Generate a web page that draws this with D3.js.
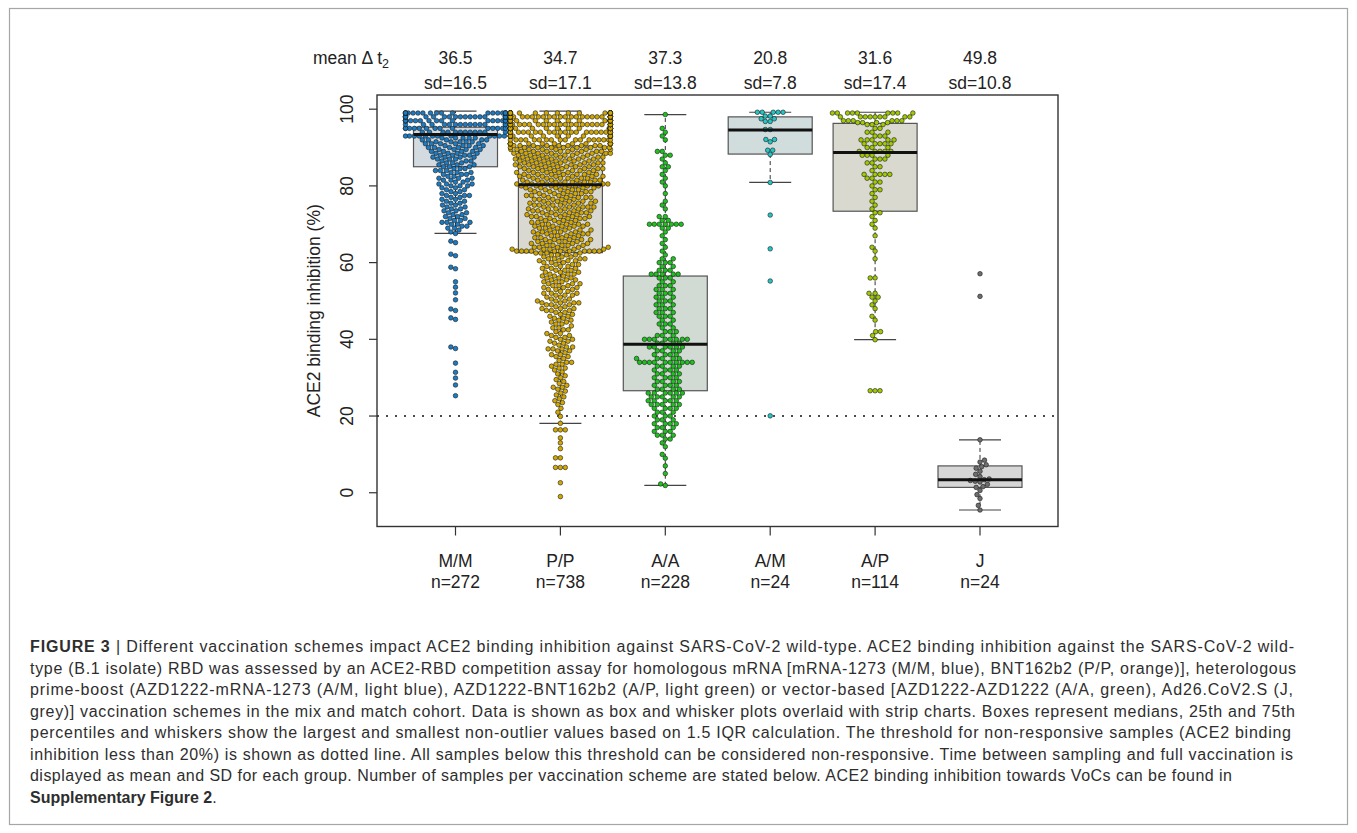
<!DOCTYPE html>
<html>
<head>
<meta charset="utf-8">
<script src="https://cdn.jsdelivr.net/npm/d3@7"></script>
<style>
  body { margin: 0; background: #fff; }
  svg { display: block; font-family: "Liberation Sans", Arial, Helvetica, sans-serif; }
</style>
</head>
<body>
<svg id="chart" width="1357" height="833"></svg>
<script>
// groups and labels
var groups = ["M/M", "P/P", "A/A", "A/M", "A/P", "J"];
var nLabels = [272, 738, 228, 24, 114, 24];
var meanDays = ["36.5", "34.7", "37.3", "20.8", "31.6", "49.8"];
var sdDays = ["16.5", "17.1", "13.8", "7.8", "17.4", "10.8"];
var yTicks = [0, 20, 40, 60, 80, 100];
var threshold = 20;

// box stats
var q1 = [85.0, 62.6, 26.6, 88.3, 73.4, 1.4];
var med = [93.4, 80.3, 38.7, 94.6, 88.7, 3.4];
var q3 = [95.3, 90.4, 56.5, 98.0, 96.3, 7.0];
var whiskLo = [67.6, 18.1, 1.9, 80.9, 39.9, -4.5];
var whiskHi = [99.5, 99.5, 98.6, 99.2, 99.2, 13.8];

// point values as [value, count]
var mmPoints = [[99,20],[98,20],[97,18],[96,14],[95,14],[94,12],[93,12],
  [92.5,5],[92,5],[91.5,5],[91,5],[90.5,4],[90,5],[89.5,4],[89,4],[88.5,4],[88,4],[87.5,4],[87,3],[86.5,3],[86,3],
  [85.5,3],[85,3],[84.5,3],[84,3],[83.5,3],[83,3],[82.5,2],[82,3],[81.5,3],[81,2],[80.5,3],[80,3],[79.5,2],[79,2],
  [78.5,2],[78,2],[77.5,3],[77,2],[76.5,2],[76,2],[75.5,2],[75,2],[74.5,2],[74,2],[73.5,2],[73,2],[72.5,2],[72,2],
  [71.5,2],[71,2],[70.5,3],[70,2],[69.5,2],[69,2],[68.5,1],[68,1],[67.6,1],
  [65.6,1],[65.2,1],[62.2,1],[61.8,1],[58.8,1],[58.4,1],[55,1],[53.6,1],[52.1,1],[50.3,1],[47.9,1],[47.5,1],[45.6,1],[45.2,1],
  [38,1],[37.6,1],[33.8,1],[31.4,1],[29.9,1],[28.1,1],[25.3,1]];
var ppPoints = [[99,31],[98,31],[97,29],[96,27],[95,27],[94,25],[93,22],[92,18],[91,15],
  [90.5,9],[90,9],[89.5,8],[89,8],[88.5,8],[88,7],[87.5,7],[87,7],[86.5,7],[86,7],[85.5,7],[85,7],
  [84.5,7],[84,6],[83.5,6],[83,7],[82.5,7],[82,6],[81.5,6],[81,7],
  [80.5,7],[80,7],[79.5,6],[79,5],[78.5,5],[78,5],[77.5,5],[77,5],[76.5,5],[76,5],[75.5,5],[75,5],[74.5,5],[74,5],
  [73.5,5],[73,5],[72.5,5],[72,5],[71.5,5],[71,4],[70.5,4],[70,5],[69.5,5],[69,4],[68.5,4],[68,5],[67.5,5],[67,4],
  [66.5,4],[66,5],[65.5,5],[65,4],[64.5,5],[64,5],[63.5,6],[63,11],
  [62.5,4],[62,4],[61.5,3],[61,4],[60.5,4],[60,3],[59.5,3],[59,3],[58.5,3],[58,3],[57.5,3],[57,3],[56.5,3],[56,3],
  [55.5,3],[55,3],[54.5,3],[54,3],[53.5,3],[53,3],[52.5,2],[52,3],[51.5,3],[51,2],[50.5,2],[50,3],[49.5,4],[49,3],
  [48.5,2],[48,3],[47.5,3],[47,2],[46.5,2],[46,2],[45.5,2],[45,2],[44.5,2],[44,2],[43.5,1],[43,2],[42.5,2],[42,1],
  [41.5,2],[41,2],[40.5,2],[40,2],[39.5,2],[39,2],[38.5,1],[38,2],[37.5,3],[37,2],[36.5,1],[36,2],[35.5,2],[35,1],
  [34.5,1],[34,2],[33.5,2],[33,1],[32.5,2],[32,1],[31.5,1],[31,1],[30.5,1],[30,1],[29.5,1],[29,1],[28.5,1],[28,1],
  [27.5,2],[27,1],[26.5,1],[26,1],[25.5,1],[25,1],[24.5,1],[24,1],[23.5,1],[23,1],[22,1],[21,1],
  [19.9,1],[18.1,1],[16.4,3],[14.3,1],[13,1],[11.5,1],[9.1,2],[6.6,3],[2.6,1],[-1,1]];
var aaPoints = [[98.6,1],[95,1],[94,1],[93,1],[92,1],[89,2],[88,2],[87,1],[86,1],[85,2],[84,1],[83,1],[82,1],[81,1],[80,1],
  [78,1],[76,1],[75,1],[74,1],[72,2],[71,2],[70,7],[69,2],[68,1],[67,1],[66,1],[65,1],[64,1],[63,1],[62,1],[61,2],[60,3],[59,2],[58,3],[57,5],
  [56,3],[55,2],[54,3],[53,3],[52,3],[51,3],[50,3],[49,3],[48,3],[47,3],[46,3],[45,2],[44,3],[43,2],[42,3],[41,3],[40,8],[39,4],
  [38,6],[37,4],[36,4],[35,5],[34,10],[33,4],[32,4],[31,4],[30,4],[29,4],[28,4],[27,4],
  [26,6],[25,5],[24,5],[23,5],[22,4],[21,3],[20,3],[19,3],[18,4],[17,3],[16,3],[15,3],[14,2],[13,1],[12,1],[10,1],[9,1],[7,1],[5,1],[2.3,1],[1.9,1]];
var amPoints = [[99.2,5],[98.2,2],[97.5,2],[96.8,2],[94.7,2],[92.1,2],[91.5,1],[89.3,2],[88.2,1],[80.9,1],[72.4,1],[63.6,1],[55.2,1],[20.05,1]];
var apPoints = [[99,9],[98,9],[97,6],[96.5,4],[96,3],[95,2],[94,3],[93,3],[92,5],[91,5],[90,3],[89,5],
  [88,4],[87,3],[86,2],[85,2],[84,1],[83,5],[82,2],[81,2],[80,1],[79,2],[78,1],[77,1],[76,1],[75,1],[74,1],
  [73,2],[72,1],[71,1],[70,1],[69,1],[67,1],[64,1],[63,1],[61,1],[56,2],[52,2],[51,2],[50,1],[49,1],[48,1],[46,1],[45,1],[42,2],[41,1],[39.9,1],[26.6,3]];
var jPoints = [[57.1,1],[51.2,1],[13.8,1],[8.5,1],[8,1],[7.3,1],[6.8,1],[6.4,1],[5.6,1],[4.8,1],[4.2,1],[3.6,1],[3.4,1],[3.2,1],[3,1],[2.8,1],
  [2.2,1],[1.6,1],[1.4,1],[0.6,1],[-0.5,1],[-1.5,1],[-3.3,1],[-4.5,1]];
var groupPoints = [mmPoints, ppPoints, aaPoints, amPoints, apPoints, jPoints];

var pointColors = ["#1b7cc4", "#d2a800", "#1ec21e", "#22c6c6", "#9fcb00", "#6e6e6e"];
var boxColors = ["#d3dbe0", "#d9d8d1", "#d1dbd3", "#d1dcdd", "#d9d9d0", "#d6d6d6"];

var captionLines = [
  [["FIGURE 3", true], [" | Different vaccination schemes impact ACE2 binding inhibition against SARS-CoV-2 wild-type. ACE2 binding inhibition against the SARS-CoV-2 wild-", false]],
  [["type (B.1 isolate) RBD was assessed by an ACE2-RBD competition assay for homologous mRNA [mRNA-1273 (M/M, blue), BNT162b2 (P/P, orange)], heterologous", false]],
  [["prime-boost (AZD1222-mRNA-1273 (A/M, light blue), AZD1222-BNT162b2 (A/P, light green) or vector-based [AZD1222-AZD1222 (A/A, green), Ad26.CoV2.S (J,", false]],
  [["grey)] vaccination schemes in the mix and match cohort. Data is shown as box and whisker plots overlaid with strip charts. Boxes represent medians, 25th and 75th", false]],
  [["percentiles and whiskers show the largest and smallest non-outlier values based on 1.5 IQR calculation. The threshold for non-responsive samples (ACE2 binding", false]],
  [["inhibition less than 20%) is shown as dotted line. All samples below this threshold can be considered non-responsive. Time between sampling and full vaccination is", false]],
  [["displayed as mean and SD for each group. Number of samples per vaccination scheme are stated below. ACE2 binding inhibition towards VoCs can be found in", false]],
  [["Supplementary Figure 2", true], [".", false]]
];
var captionWidths = [1264, 1266, 1263, 1265, 1261, 1263, 1202, null];

/*
 layout
*/
var svg = d3.select("#chart");
var plot = {left: 377, right: 1058, top: 95, bottom: 526.5};
var fontSize = 17.5;

svg.append("rect")
  .attr("x", 9.5).attr("y", 8.5)
  .attr("width", 1338).attr("height", 816)
  .attr("fill", "none").attr("stroke", "#a6a6a6").attr("stroke-width", 1.2);

var y = d3.scaleLinear().domain([-8.8, 103.7]).range([plot.bottom, plot.top]);
var x = d3.scalePoint().domain(groups).range([455.5, 980]);
var boxHalf = 42, capHalf = 21;

// threshold
svg.append("line")
  .attr("x1", plot.left).attr("x2", plot.right)
  .attr("y1", y(threshold)).attr("y2", y(threshold))
  .attr("stroke", "#111").attr("stroke-width", 1.6)
  .attr("stroke-dasharray", "2,7");

// boxes
groups.forEach(function(g, i) {
  var cx = x(g);
  var gr = svg.append("g").attr("class", "box");
  gr.append("line")
    .attr("x1", cx).attr("x2", cx).attr("y1", y(q3[i])).attr("y2", y(whiskHi[i]))
    .attr("stroke", "#333").attr("stroke-dasharray", "4,3");
  gr.append("line")
    .attr("x1", cx).attr("x2", cx).attr("y1", y(q1[i])).attr("y2", y(whiskLo[i]))
    .attr("stroke", "#333").attr("stroke-dasharray", "4,3");
  [whiskHi[i], whiskLo[i]].forEach(function(v) {
    gr.append("line")
      .attr("x1", cx - capHalf).attr("x2", cx + capHalf).attr("y1", y(v)).attr("y2", y(v))
      .attr("stroke", "#444").attr("stroke-width", 1.2);
  });
  gr.append("rect")
    .attr("x", cx - boxHalf).attr("width", boxHalf * 2)
    .attr("y", y(q3[i])).attr("height", y(q1[i]) - y(q3[i]))
    .attr("fill", boxColors[i]).attr("stroke", "#555").attr("stroke-width", 1.2);
});

// beeswarm, ascending priority, gutter corral
function swarm(pairs, dist, limit) {
  var vals = [];
  pairs.forEach(function(p) {
    for (var k = 0; k < p[1]; k++) vals.push(p[0]);
  });
  vals.sort(function(a, b) { return a - b; });
  var placed = [];
  vals.forEach(function(v) {
    var py = y(v);
    var near = placed.filter(function(q) { return Math.abs(q.y - py) < dist; });
    var cands = [0];
    near.forEach(function(q) {
      var dx = Math.sqrt(dist * dist - (q.y - py) * (q.y - py));
      cands.push(q.x + dx, q.x - dx);
    });
    cands.sort(function(a, b) { return Math.abs(a) - Math.abs(b) || a - b; });
    var px = 0;
    for (var i = 0; i < cands.length; i++) {
      var c = cands[i];
      var ok = near.every(function(q) {
        var dx = q.x - c, dy = q.y - py;
        return dx * dx + dy * dy >= dist * dist - 0.01;
      });
      if (ok) { px = c; break; }
    }
    placed.push({x: px, y: py});
  });
  placed.forEach(function(p) {
    if (p.x > limit) p.x = limit;
    if (p.x < -limit) p.x = -limit;
  });
  return placed;
}

groups.forEach(function(g, i) {
  var pts = swarm(groupPoints[i], 4.9, 50);
  svg.append("g").selectAll("circle")
    .data(pts)
    .enter().append("circle")
    .attr("cx", function(d) { return x(g) + d.x; })
    .attr("cy", function(d) { return d.y; })
    .attr("r", 2.3)
    .attr("fill", pointColors[i])
    .attr("stroke", "#1a1a1a").attr("stroke-width", 0.6);
});

// medians on top
groups.forEach(function(g, i) {
  svg.append("line")
    .attr("x1", x(g) - boxHalf).attr("x2", x(g) + boxHalf)
    .attr("y1", y(med[i])).attr("y2", y(med[i]))
    .attr("stroke", "#111").attr("stroke-width", 3);
});

// frame
svg.append("rect")
  .attr("x", plot.left).attr("y", plot.top)
  .attr("width", plot.right - plot.left).attr("height", plot.bottom - plot.top)
  .attr("fill", "none").attr("stroke", "#333").attr("stroke-width", 1.4);

// y axis
var yAxis = svg.append("g").attr("class", "y-axis");
yTicks.forEach(function(t) {
  yAxis.append("line")
    .attr("x1", plot.left - 8).attr("x2", plot.left)
    .attr("y1", y(t)).attr("y2", y(t))
    .attr("stroke", "#333").attr("stroke-width", 1.2);
  yAxis.append("text")
    .attr("transform", "translate(353," + y(t) + ") rotate(-90)")
    .attr("text-anchor", "middle")
    .attr("font-size", fontSize).attr("fill", "#222")
    .text(t);
});
svg.append("text")
  .attr("transform", "translate(320," + ((plot.top + plot.bottom) / 2) + ") rotate(-90)")
  .attr("text-anchor", "middle")
  .attr("font-size", fontSize).attr("fill", "#222")
  .text("ACE2 binding inhibition (%)");

// x axis
groups.forEach(function(g, i) {
  svg.append("line")
    .attr("x1", x(g)).attr("x2", x(g))
    .attr("y1", plot.bottom).attr("y2", plot.bottom + 9)
    .attr("stroke", "#333").attr("stroke-width", 1.2);
  svg.append("text")
    .attr("x", x(g)).attr("y", 567)
    .attr("text-anchor", "middle").attr("font-size", fontSize).attr("fill", "#222")
    .text(g);
  svg.append("text")
    .attr("x", x(g)).attr("y", 588)
    .attr("text-anchor", "middle").attr("font-size", fontSize).attr("fill", "#222")
    .text("n=" + nLabels[i]);
  svg.append("text")
    .attr("x", x(g)).attr("y", 64)
    .attr("text-anchor", "middle").attr("font-size", fontSize).attr("fill", "#222")
    .text(meanDays[i]);
  svg.append("text")
    .attr("x", x(g)).attr("y", 89)
    .attr("text-anchor", "middle").attr("font-size", fontSize).attr("fill", "#222")
    .text("sd=" + sdDays[i]);
});

var meanLabel = svg.append("text")
  .attr("x", 389).attr("y", 64)
  .attr("text-anchor", "end").attr("font-size", fontSize).attr("fill", "#222");
meanLabel.append("tspan").text("mean \u0394 t");
meanLabel.append("tspan").attr("dy", 4).attr("font-size", 12.5).text("2");

// caption
captionLines.forEach(function(line, i) {
  var t = svg.append("text")
    .attr("x", 30).attr("y", 652 + i * 21.5)
    .attr("font-size", 16).attr("fill", "#2e2e2e");
  if (captionWidths[i]) {
    t.attr("textLength", captionWidths[i]).attr("lengthAdjust", "spacing");
  }
  line.forEach(function(part) {
    t.append("tspan")
      .attr("font-weight", part[1] ? "bold" : null)
      .text(part[0]);
  });
});
</script>
</body>
</html>
